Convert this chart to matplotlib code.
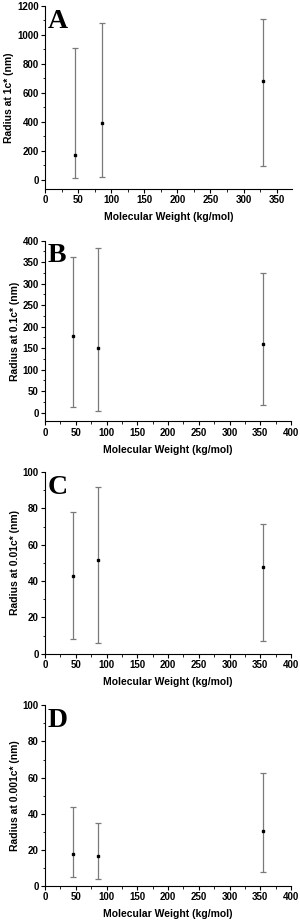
import matplotlib
matplotlib.use('Agg')
import matplotlib.pyplot as plt
from matplotlib.ticker import MultipleLocator

# molecular weight (kg/mol)
mw_a = [46, 86, 330]
mw_bcd = [46, 86, 355]

# radius at 1c*
r_a = [170, 392, 682]
lo_a = [10, 18, 96]
hi_a = [911, 1082, 1113]

# radius at 0.1c*
r_b = [178, 151, 160]
lo_b = [14, 4, 17]
hi_b = [361, 384, 325]

# radius at 0.01c*
r_c = [42.6, 51.4, 47.9]
lo_c = [8.3, 6.1, 6.8]
hi_c = [78.0, 91.7, 71.6]

# radius at 0.001c*
r_d = [17.5, 16.4, 30.2]
lo_d = [5.2, 3.7, 7.7]
hi_d = [43.5, 34.8, 62.8]

panels = [
    ('A', mw_a, r_a, lo_a, hi_a, 'Radius at 1c* (nm)', (0, 373), (-64, 1200), 200, 100, 50, 25),
    ('B', mw_bcd, r_b, lo_b, hi_b, 'Radius at 0.1c* (nm)', (0, 400), (-20, 400), 50, 25, 50, 25),
    ('C', mw_bcd, r_c, lo_c, hi_c, 'Radius at 0.01c* (nm)', (0, 400), (0, 100), 20, 10, 50, 25),
    ('D', mw_bcd, r_d, lo_d, hi_d, 'Radius at 0.001c* (nm)', (0, 400), (0, 100), 20, 10, 50, 25),
]
boxes = [
    [0.15, 0.795, 0.823, 0.1985],
    [0.15, 0.543, 0.820, 0.196],
    [0.15, 0.291, 0.820, 0.197],
    [0.15, 0.039, 0.820, 0.196],
]

plt.rcParams['font.family'] = ['Liberation Sans', 'DejaVu Sans']
plt.rcParams['font.weight'] = 'bold'

fig = plt.figure(figsize=(3.0, 9.22), dpi=100)

for (letter, x, y, lo, hi, ylab, xl, yl, ymaj, ymin, xmaj, xmin), box in zip(panels, boxes):
    ax = fig.add_axes(box)
    err = [[v - l for v, l in zip(y, lo)], [h - v for v, h in zip(y, hi)]]
    ax.errorbar(x, y, yerr=err, fmt='s', color='black', ms=2,
                ecolor='#7a7a7a', elinewidth=0.9, capsize=2.2, capthick=0.9)
    ax.set_xlim(*xl)
    ax.set_ylim(*yl)
    ax.spines['top'].set_visible(False)
    ax.spines['right'].set_visible(False)
    ax.xaxis.set_major_locator(MultipleLocator(xmaj))
    ax.xaxis.set_minor_locator(MultipleLocator(xmin))
    ax.yaxis.set_major_locator(MultipleLocator(ymaj))
    ax.yaxis.set_minor_locator(MultipleLocator(ymin))
    ax.tick_params(which='major', direction='out', length=3, width=0.8, labelsize=7, pad=1.5)
    ax.tick_params(which='minor', direction='out', length=1.8, width=0.6)
    for lab in ax.get_xticklabels() + ax.get_yticklabels():
        lab.set_fontweight('bold')
    ax.set_xlabel('Molecular Weight (kg/mol)', fontsize=7.5, fontweight='bold', labelpad=5)
    ax.set_ylabel(ylab, fontsize=7.5, fontweight='bold', labelpad=2)
    ax.text(0.01, 0.985, letter, transform=ax.transAxes, ha='left', va='top',
            fontsize=20, fontweight='bold', family=['Liberation Serif', 'DejaVu Serif'])

fig.savefig('out.png', dpi=100)
